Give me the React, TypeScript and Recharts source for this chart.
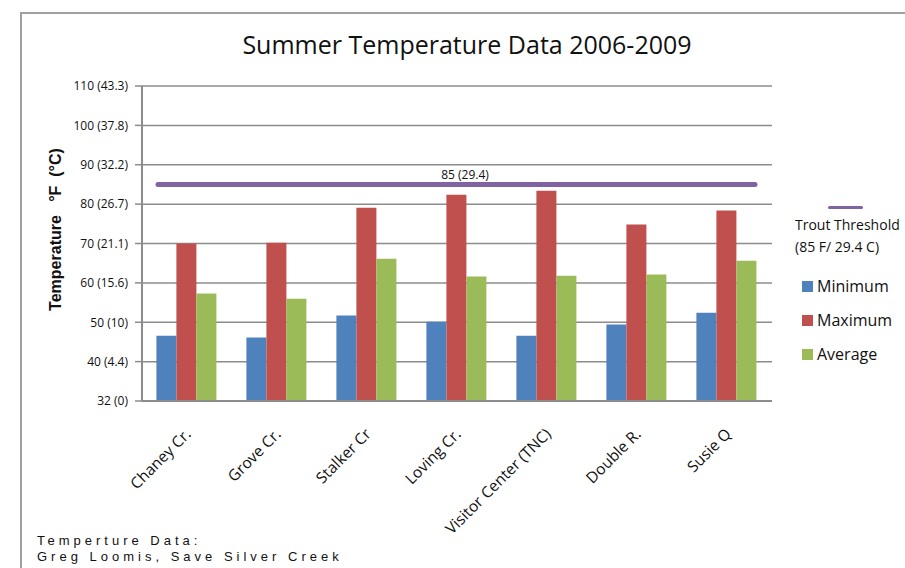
import React from 'react';
import {
  BarChart,
  Bar,
  XAxis,
  YAxis,
  CartesianGrid,
  ReferenceLine,
  Legend,
} from 'recharts';

const sites = [
  'Chaney Cr.',
  'Grove Cr.',
  'Stalker Cr',
  'Loving Cr.',
  'Visitor Center (TNC)',
  'Double R.',
  'Susie Q',
];
const minimum = [46.6, 46.1, 51.7, 50.1, 46.6, 49.4, 52.4];
const maximum = [70.0, 70.2, 79.1, 82.4, 83.4, 74.8, 78.4];
const average = [57.3, 56.0, 66.1, 61.6, 61.8, 62.1, 65.6];
const seriesNames = ['Minimum', 'Maximum', 'Average'];

const yTicks = [30, 40, 50, 60, 70, 80, 90, 100, 110];
const yTickLabels = [
  '32 (0)',
  '40 (4.4)',
  '50 (10)',
  '60 (15.6)',
  '70 (21.1)',
  '80 (26.7)',
  '90 (32.2)',
  '100 (37.8)',
  '110 (43.3)',
];

const threshold = 85;
const thresholdLabel = '85 (29.4)';

const FONT = '"Open Sans", sans-serif';
const COLORS = { min: '#4f81bd', max: '#c0504d', avg: '#9bbb59', thr: '#8064a2' };

const rows = sites.map((site, i) => ({
  site,
  Minimum: minimum[i],
  Maximum: maximum[i],
  Average: average[i],
}));

const SiteTick = (props: any) => {
  const { x, y, payload } = props;
  return (
    <g transform={`translate(${x + 5},${y + 26})`}>
      <text
        textAnchor="end"
        transform="rotate(-45)"
        fontSize={15.5}
        fontFamily={FONT}
        fill="#111"
      >
        {payload.value}
      </text>
    </g>
  );
};

// trims the threshold line a bit inside the plot, like the original
const ThresholdShape = (props: any) => {
  const { x1, y1, x2, y2 } = props;
  if (x1 == null) return null;
  return (
    <line
      x1={x1 + 16}
      y1={y1}
      x2={x2 - 17}
      y2={y2}
      stroke={COLORS.thr}
      strokeWidth={5}
      strokeLinecap="round"
    />
  );
};

const LegendBox = (props: any) => {
  const payload = [...(props.payload ?? [])].sort(
    (a: any, b: any) => seriesNames.indexOf(a.value) - seriesNames.indexOf(b.value)
  );
  return (
    <div style={{ fontFamily: FONT, color: '#111' }}>
      <div style={{ position: 'relative', height: 63 }}>
        <div
          style={{
            position: 'absolute',
            left: 33,
            top: 0,
            width: 35,
            height: 3,
            background: COLORS.thr,
            borderRadius: 2,
          }}
        />
        <div style={{ position: 'absolute', left: 0, top: 8, fontSize: 14, lineHeight: '22px', whiteSpace: 'nowrap' }}>
          Trout Threshold
          <br />
          (85 F/ 29.4 C)
        </div>
      </div>
      {payload.map((p: any) => (
        <div
          key={p.value}
          style={{ display: 'flex', alignItems: 'center', height: 34, marginLeft: 7 }}
        >
          <span style={{ width: 11, height: 11, background: p.color, marginRight: 4 }} />
          <span style={{ fontSize: 16 }}>{p.value}</span>
        </div>
      ))}
    </div>
  );
};

export default function App() {
  return (
    <div
      style={{
        position: 'absolute',
        left: 0,
        top: 0,
        width: 905,
        height: 568,
        overflow: 'hidden',
        background: '#fff',
      }}
    >
      <div
        style={{
          position: 'absolute',
          left: 20,
          top: 12,
          right: 0,
          bottom: 0,
          borderTop: '2px solid #a0a0a0',
          borderLeft: '2px solid #a0a0a0',
        }}
      />
      <div
        style={{
          position: 'absolute',
          left: 0,
          top: 27,
          width: 934,
          textAlign: 'center',
          fontFamily: FONT,
          fontSize: 25,
          color: '#111',
        }}
      >
        Summer Temperature Data 2006-2009
      </div>
      <BarChart
        width={905}
        height={568}
        data={rows}
        margin={{ top: 86, right: 133, bottom: 67, left: 20 }}
        barCategoryGap="16%"
        barGap={0}
        style={{ position: 'absolute', left: 0, top: 0 }}
      >
        <CartesianGrid vertical={false} stroke="#8c8c8c" strokeWidth={1.5} />
        <XAxis
          dataKey="site"
          height={100}
          interval={0}
          tickLine={false}
          axisLine={{ stroke: '#8c8c8c', strokeWidth: 2 }}
          tick={<SiteTick />}
        />
        <YAxis
          width={122}
          domain={[30, 110]}
          ticks={yTicks}
          interval={0}
          tickSize={7}
          tickMargin={7}
          tickLine={{ stroke: '#8c8c8c', strokeWidth: 1.5 }}
          axisLine={{ stroke: '#8c8c8c', strokeWidth: 2 }}
          tick={{ fontSize: 12, fontFamily: FONT, fill: '#111' }}
          tickFormatter={(v: number) => yTickLabels[yTicks.indexOf(v)] ?? String(v)}
          label={{
            content: (p: any) => {
              const vb = p.viewBox ?? {};
              const cx = vb.x + 35;
              const cy = vb.y + vb.height / 2 - 14;
              return (
                <text
                  x={cx}
                  y={cy}
                  transform={`rotate(-90 ${cx} ${cy})`}
                  textAnchor="middle"
                  dominantBaseline="central"
                  fontFamily="Arial, 'Liberation Sans', sans-serif"
                  fontWeight={700}
                  fontSize={16}
                  fill="#111"
                  style={{ whiteSpace: 'pre' }}
                >
                  {'Temperature   °F  (°C)'}
                </text>
              );
            },
          }}
        />
        <Bar dataKey="Minimum" fill={COLORS.min} isAnimationActive={false} />
        <Bar dataKey="Maximum" fill={COLORS.max} isAnimationActive={false} />
        <Bar dataKey="Average" fill={COLORS.avg} isAnimationActive={false} />
        <ReferenceLine
          y={threshold}
          shape={<ThresholdShape />}
          label={{
            value: thresholdLabel,
            position: 'top',
            dx: 8,
            fontSize: 12,
            fontFamily: FONT,
            fill: '#111',
          }}
        />
        <Legend
          layout="vertical"
          align="center"
          verticalAlign="middle"
          content={<LegendBox />}
          wrapperStyle={{ position: 'absolute', left: 795, top: 206, width: 140 }}
        />
      </BarChart>
      <div
        style={{
          position: 'absolute',
          left: 37,
          top: 533,
          fontFamily: 'Arial, "Liberation Sans", sans-serif',
          fontSize: 13,
          letterSpacing: 4,
          lineHeight: '16px',
          color: '#111',
        }}
      >
        Temperture Data:
        <br />
        Greg Loomis, Save Silver Creek
      </div>
    </div>
  );
}
